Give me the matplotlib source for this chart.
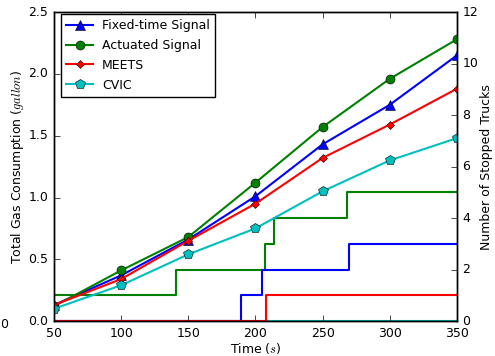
import matplotlib
matplotlib.use("Agg")
import matplotlib.pyplot as plt

plt.style.use("classic")
plt.rcParams['font.family'] = ['DejaVu Sans']
plt.rcParams['mathtext.fontset'] = 'cm'

time = [50, 100, 150, 200, 250, 300, 350]
fixed = [0.13, 0.37, 0.66, 1.01, 1.43, 1.75, 2.15]
actuated = [0.12, 0.41, 0.68, 1.12, 1.57, 1.96, 2.28]
meets = [0.13, 0.34, 0.65, 0.95, 1.32, 1.59, 1.88]
cvic = [0.10, 0.29, 0.54, 0.75, 1.05, 1.30, 1.48]

# stopped trucks (step functions)
act_t = [50, 141, 207, 214, 268, 350]
act_n = [1, 2, 3, 4, 5, 5]
fix_t = [50, 189, 205, 270, 350]
fix_n = [0, 1, 2, 3, 3]
meets_t = [50, 208, 350]
meets_n = [0, 1, 1]
cvic_t = [50, 350]
cvic_n = [0, 0]

FS = 9

fig = plt.figure(figsize=(4.95, 3.56), dpi=100)
ax = fig.add_axes([0.109, 0.098, 0.814, 0.868])
ax2 = ax.twinx()

ax2.plot(cvic_t, cvic_n, color='c', lw=1.5, drawstyle='steps-post')
ax2.plot(act_t, act_n, color='g', lw=1.5, drawstyle='steps-post')
ax2.plot(fix_t, fix_n, color='b', lw=1.5, drawstyle='steps-post')
ax2.plot(meets_t, meets_n, color='r', lw=1.5, drawstyle='steps-post')

ax.set_zorder(ax2.get_zorder() + 1)
ax.patch.set_visible(False)

ax.plot(time, fixed, color='b', marker='^', ms=6.5, lw=1.5, mew=0.4, label='Fixed-time Signal')
ax.plot(time, actuated, color='g', marker='o', ms=6.5, lw=1.5, mew=0.4, label='Actuated Signal')
ax.plot(time, meets, color='r', marker='D', ms=4.5, lw=1.5, mew=0.4, label='MEETS')
ax.plot(time, cvic, color='c', marker='p', ms=7, lw=1.5, mew=0.4, label='CVIC')

ax.set_xlim(50, 350)
ax.set_ylim(0, 2.5)
ax2.set_ylim(0, 12)
ax.set_xticks([50, 100, 150, 200, 250, 300, 350])
ax.set_yticks([0.0, 0.5, 1.0, 1.5, 2.0, 2.5])
ax2.set_yticks([0, 2, 4, 6, 8, 10, 12])
for a in (ax, ax2):
    a.tick_params(labelsize=FS)
ax.set_xlabel('Time ($s$)', fontsize=FS, labelpad=1)
ax.set_ylabel('Total Gas Consumption ($gallon$)', fontsize=FS, labelpad=2)
ax2.set_ylabel('Number of Stopped Trucks', fontsize=FS, labelpad=1)

leg = ax.legend(loc='upper left', bbox_to_anchor=(7 / 403, 1 - 2 / 309),
                borderaxespad=0, fontsize=FS, numpoints=1, handlelength=2.2,
                labelspacing=0.55, handletextpad=0.7, borderpad=0.4)
leg.get_frame().set_linewidth(1.0)

fig.text(0.0, 0.088, '0', fontsize=FS, ha='left', va='center')

fig.savefig('out.png', dpi=100)
